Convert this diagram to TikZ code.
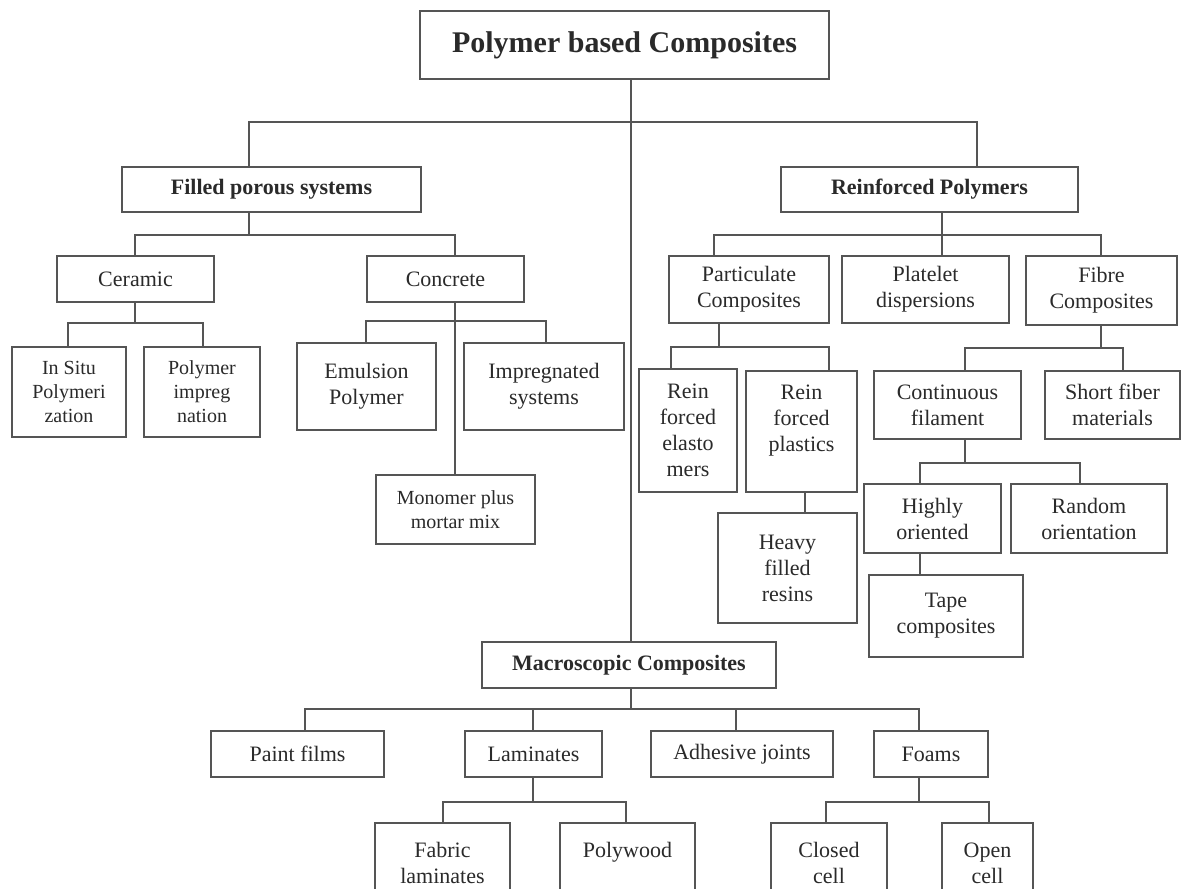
\documentclass[tikz,border=0pt]{standalone}
\usepackage{fontspec}
\setmainfont{Liberation Serif}
\usetikzlibrary{calc}
\definecolor{ln}{HTML}{555555}
\definecolor{tx}{HTML}{2A2A2A}
\tikzset{
  box/.style={draw=ln, line width=1.3pt, rectangle, inner sep=0pt, align=center, text=tx, font=\fontsize{22}{26}\selectfont},
  bbox/.style={box, font=\bfseries\fontsize{22}{26}\selectfont},
  tbox/.style={box, font=\bfseries\fontsize{30}{34}\selectfont},
  sbox/.style={box, font=\fontsize{20}{24}\selectfont},
  link/.style={draw=ln, line width=1.3pt},
}
\newcommand{\mkbox}[7]{\node[#7, minimum width={(#4)-(#2)}, minimum height={(#5)-(#3)}] (#1) at ({((#2)+(#4))/2},{((#3)+(#5))/2}) {#6};}
\newcommand{\mktree}[4]{%
  \coordinate (#1-j) at (#2,#3);
  \draw[link] (#1.south -| #1-j) -- (#1-j);
  \foreach \cn/\cx in {#4} {
    \coordinate (\cn-j) at (\cx,#3);
    \draw[link] (#1-j) -- (\cn-j) -- (\cn.north -| \cn-j);
  }
}
\begin{document}
\begin{tikzpicture}[x=1pt,y=-1pt]
\fill[white] (0,0) rectangle (1182,888);
\useasboundingbox (0,0) rectangle (1182,888);
\clip (0,0) rectangle (1182,888);

% level 0
\mkbox{top}{420}{11}{829}{79}{Polymer based Composites}{tbox}
% level 1
\mkbox{FPS}{122}{167}{421}{212}{Filled porous systems}{bbox}
\mkbox{RP}{781}{167}{1078}{212}{Reinforced Polymers}{bbox}
% filled porous systems
\mkbox{Ceramic}{57}{256}{214}{302}{Ceramic}{box}
\mkbox{Concrete}{367}{256}{524}{302}{Concrete}{box}
\mkbox{InSitu}{12}{347}{126}{437}{In Situ\\Polymeri\\zation}{sbox}
\mkbox{PolImp}{144}{347}{260}{437}{Polymer\\impreg\\nation}{sbox}
\mkbox{Emulsion}{297}{343}{436}{430}{Emulsion\\Polymer}{box}
\mkbox{Impreg}{464}{343}{624}{430}{Impregnated\\systems}{box}
\mkbox{Monomer}{376}{475}{535}{544}{Monomer plus\\mortar mix}{sbox}
% reinforced polymers
\mkbox{Partic}{669}{256}{829}{323}{Particulate\\Composites}{box}
\mkbox{Platelet}{842}{256}{1009}{323}{Platelet\\dispersions}{box}
\mkbox{Fibre}{1026}{256}{1177}{325}{Fibre\\Composites}{box}
\mkbox{ReinEl}{639}{369}{737}{492}{Rein\\forced\\elasto\\mers}{box}
\mkbox{ReinPl}{746}{371}{857}{492}{Rein\\forced\\plastics\\\mbox{}}{box}
\mkbox{Heavy}{718}{513}{857}{623}{Heavy\\filled\\resins}{box}
\mkbox{Contin}{874}{371}{1021}{439}{Continuous\\filament}{box}
\mkbox{Short}{1045}{371}{1180}{439}{Short fiber\\materials}{box}
\mkbox{Highly}{864}{484}{1001}{553}{Highly\\oriented}{box}
\mkbox{Random}{1011}{484}{1167}{553}{Random\\orientation}{box}
\mkbox{Tape}{869}{575}{1023}{657}{Tape\\composites}{box}
% macroscopic
\mkbox{Macro}{482}{642}{776}{688}{Macroscopic Composites}{bbox}
\mkbox{Paint}{211}{731}{384}{777}{Paint films}{box}
\mkbox{Lamin}{465}{731}{602}{777}{Laminates}{box}
\mkbox{Adhes}{651}{731}{833}{777}{Adhesive joints}{box}
\mkbox{Foams}{874}{731}{988}{777}{Foams}{box}
\mkbox{Fabric}{375}{823}{510}{903}{Fabric\\laminates}{box}
\mkbox{Polywood}{560}{823}{695}{903}{Polywood\\\mbox{}}{box}
\mkbox{Closed}{771}{823}{887}{903}{Closed\\cell}{box}
\mkbox{Open}{942}{823}{1033}{903}{Open\\cell}{box}

% connectors
\mktree{top}{631}{122}{FPS/249,RP/977}
\draw[link] (top-j) -- (Macro.north -| top-j);
\mktree{FPS}{249}{235}{Ceramic/135,Concrete/455}
\mktree{Ceramic}{135}{323}{InSitu/68,PolImp/203}
\mktree{Concrete}{455}{321}{Emulsion/366,Impreg/546,Monomer/455}
\mktree{RP}{942}{235}{Partic/714,Platelet/942,Fibre/1101}
\mktree{Partic}{719}{347}{ReinEl/671,ReinPl/829}
\mktree{ReinPl}{805}{502}{Heavy/805}
\mktree{Fibre}{1101}{348}{Contin/965,Short/1123}
\mktree{Contin}{965}{463}{Highly/920,Random/1080}
\mktree{Highly}{920}{564}{Tape/920}
\mktree{Macro}{631}{709}{Paint/305,Lamin/533,Adhes/736,Foams/919}
\mktree{Lamin}{533}{802}{Fabric/443,Polywood/626}
\mktree{Foams}{919}{802}{Closed/826,Open/989}
\end{tikzpicture}
\end{document}
